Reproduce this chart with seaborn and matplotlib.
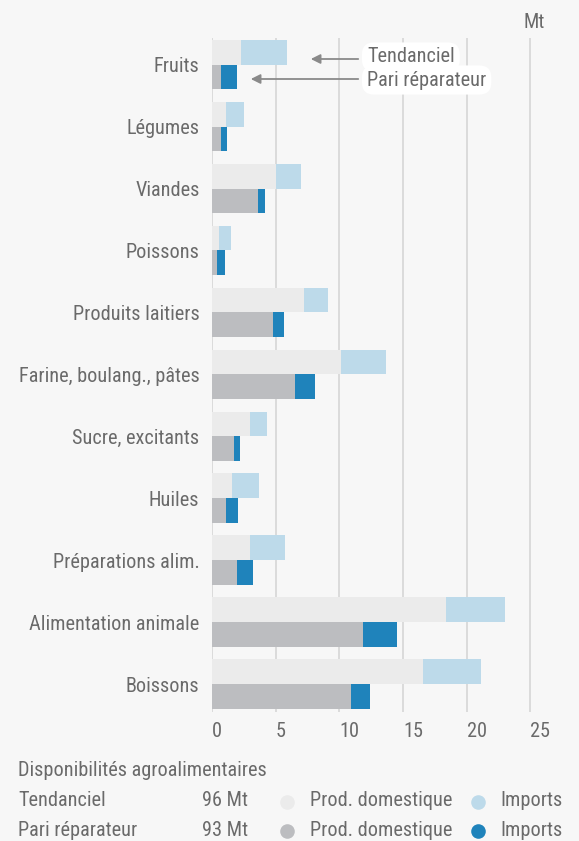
import matplotlib
matplotlib.use("Agg")
import matplotlib.pyplot as plt
from matplotlib import font_manager
from matplotlib.lines import Line2D
import numpy as np
import pandas as pd
import seaborn as sns

categories = ["Fruits", "Légumes", "Viandes", "Poissons", "Produits laitiers",
              "Farine, boulang., pâtes", "Sucre, excitants", "Huiles",
              "Préparations alim.", "Alimentation animale", "Boissons"]
tend_dom = [2.3, 1.1, 5.0, 0.55, 7.2, 10.1, 3.0, 1.6, 3.0, 18.4, 16.6]
tend_imp = [3.6, 1.4, 2.0, 0.95, 1.9, 3.6, 1.3, 2.1, 2.7, 4.6, 4.5]
pari_dom = [0.7, 0.7, 3.6, 0.4, 4.8, 6.5, 1.7, 1.1, 2.0, 11.9, 10.9]
pari_imp = [1.25, 0.5, 0.55, 0.6, 0.85, 1.6, 0.5, 0.95, 1.2, 2.6, 1.5]
scenarios = ["Tendanciel", "Pari réparateur"]
totals_text = ["96 Mt", "93 Mt"]
xticks = [0, 5, 10, 15, 20, 25]

C_TD, C_TI, C_PD, C_PI = "#ebebeb", "#bddaea", "#bcbdc0", "#1f83bb"
TXT = "#6a6a6a"
BG = "#f7f7f7"

sns.set_theme(style="white")
avail = {f.name for f in font_manager.fontManager.ttflist}
fams = [f for f in ["Liberation Sans Narrow", "Roboto Condensed", "Roboto", "DejaVu Sans"] if f in avail]
plt.rcParams["font.family"] = fams

W, H = 579, 841
fig = plt.figure(figsize=(W / 100, H / 100), dpi=100, facecolor=BG)
ax_l, ax_t, ax_b = 212, 38, 712
ax = fig.add_axes([ax_l / W, 1 - ax_b / H, 1 - ax_l / W, (ax_b - ax_t) / H])
ax.set_facecolor(BG)

rows = []
for i, c in enumerate(categories):
    rows.append(dict(cat=c, sc=scenarios[0], dom=tend_dom[i], tot=tend_dom[i] + tend_imp[i]))
    rows.append(dict(cat=c, sc=scenarios[1], dom=pari_dom[i], tot=pari_dom[i] + pari_imp[i]))
df = pd.DataFrame(rows)

for x in xticks:
    ax.axvline(x, color="#d8d8d8", lw=1.3, zorder=0)

sns.barplot(data=df, y="cat", x="tot", hue="sc", hue_order=scenarios, order=categories,
            palette={scenarios[0]: C_TI, scenarios[1]: C_PI}, saturation=1,
            width=0.8, orient="h", ax=ax, legend=False, errorbar=None, zorder=2)
sns.barplot(data=df, y="cat", x="dom", hue="sc", hue_order=scenarios, order=categories,
            palette={scenarios[0]: C_TD, scenarios[1]: C_PD}, saturation=1,
            width=0.8, orient="h", ax=ax, legend=False, errorbar=None, zorder=3)
for p in ax.patches:
    p.set_linewidth(0)

fs = 14.6
ax.set_xlim(0, (W - ax_l) / 12.73)
ax.set_ylim(10.45, -0.43)
ax.set_xticks(xticks)
ax.set_xticklabels([str(x) for x in xticks], ha="left")
ax.set_xlabel("")
ax.set_ylabel("")
for s in ax.spines.values():
    s.set_visible(False)
ax.tick_params(axis="x", length=0, pad=7, labelsize=fs, labelcolor=TXT)
ax.tick_params(axis="y", length=0, pad=9, labelsize=fs, labelcolor=TXT)

def P(x, y):
    return (x / W, 1 - y / H)

fig.text(*P(534, 22), "Mt", ha="center", va="center", fontsize=fs, color=TXT)

# annotations
for label, ty, tip, ay in [("Tendanciel", 57, 308, 59), ("Pari réparateur", 80, 248, 79)]:
    fig.text(*P(367, ty), label, ha="left", va="center", fontsize=fs, color=TXT,
             bbox=dict(boxstyle="round,pad=0.25,rounding_size=0.6", fc="white", ec="none"), zorder=10)
    fig.add_artist(matplotlib.patches.FancyArrowPatch(
        P(361, ay), P(tip, ay), transform=fig.transFigure, arrowstyle="-|>",
        mutation_scale=14, color="#8a8a8a", lw=1.3, zorder=9))

# legend
fig.text(*P(18, 770), "Disponibilités agroalimentaires", ha="left", va="center", fontsize=fs, color=TXT)
cols = [(C_TD, C_TI), (C_PD, C_PI)]
for k, y in enumerate([801, 830]):
    fig.text(*P(18, y), scenarios[k], ha="left", va="center", fontsize=fs, color=TXT)
    fig.text(*P(202, y), totals_text[k], ha="left", va="center", fontsize=fs, color=TXT)
    fig.text(*P(310, y), "Prod. domestique", ha="left", va="center", fontsize=fs, color=TXT)
    fig.text(*P(500, y), "Imports", ha="left", va="center", fontsize=fs, color=TXT)
    for cx, col in zip([287, 478], cols[k]):
        fig.add_artist(Line2D([cx / W], [1 - (y + 1) / H], marker="o", markersize=10.5,
                              color=col, markeredgewidth=0, transform=fig.transFigure))

fig.savefig("out.png", dpi=100, facecolor=BG)
